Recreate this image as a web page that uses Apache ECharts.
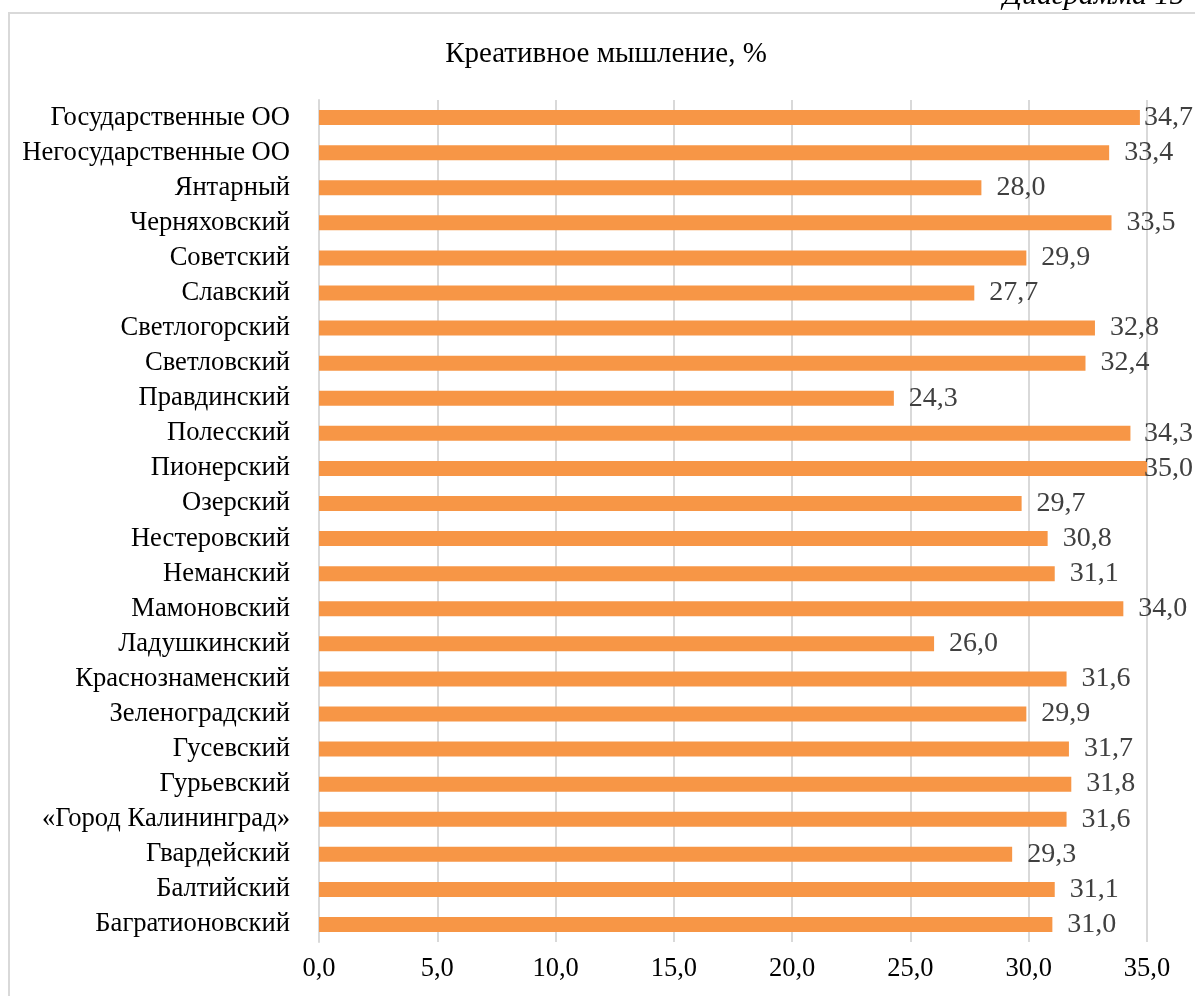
<!DOCTYPE html>
<html>
<head>
<meta charset="utf-8">
<script src="https://cdn.jsdelivr.net/npm/echarts@6/dist/echarts.min.js"></script>
<style>
  html, body { margin: 0; padding: 0; background: #fff; overflow: hidden; }
  #frame { position: absolute; left: 8px; top: 12px; width: 1300px; height: 1100px;
           border: 2px solid #d9d9d9; box-sizing: border-box; }
  #chart { position: absolute; left: 0; top: 0; width: 1195px; height: 996px; }
</style>
</head>
<body>
<div id="frame"></div>
<div id="chart"></div>
<script>
// районы сверху вниз
var categories = [
  'Государственные ОО', 'Негосударственные ОО', 'Янтарный', 'Черняховский',
  'Советский', 'Славский', 'Светлогорский', 'Светловский', 'Правдинский',
  'Полесский', 'Пионерский', 'Озерский', 'Нестеровский', 'Неманский',
  'Мамоновский', 'Ладушкинский', 'Краснознаменский', 'Зеленоградский',
  'Гусевский', 'Гурьевский', '«Город Калининград»', 'Гвардейский',
  'Балтийский', 'Багратионовский'
];
var values = [
  34.7, 33.4, 28.0, 33.5,
  29.9, 27.7, 32.8, 32.4, 24.3,
  34.3, 35.0, 29.7, 30.8, 31.1,
  34.0, 26.0, 31.6, 29.9,
  31.7, 31.8, 31.6, 29.3,
  31.1, 31.0
];

var fmt = function (v) { return Number(v).toFixed(1).replace('.', ','); };
var font = '"Liberation Serif", "Times New Roman", serif';

var myChart = echarts.init(document.getElementById('chart'));
var option = {
  animation: false,
  title: {
    text: 'Креативное мышление, %',
    left: 601,
    top: 35,
    textAlign: 'center',
    textStyle: { fontFamily: font, fontSize: 29, fontWeight: 'normal', color: '#000' }
  },
  graphic: [{
    type: 'text',
    left: 1003,
    top: -19,
    style: { text: 'Диаграмма 15', font: 'italic 30px ' + font, fill: '#000' }
  }],
  grid: { left: 319, right: 48, top: 100, bottom: 54, containLabel: false },
  xAxis: {
    type: 'value',
    min: 0,
    max: 35,
    interval: 5,
    axisLine: { show: false },
    axisTick: { show: false },
    splitLine: { show: true, lineStyle: { color: '#d9d9d9', width: 2 } },
    axisLabel: {
      margin: 14,
      fontFamily: font,
      fontSize: 26.5,
      color: '#000',
      formatter: fmt
    }
  },
  yAxis: {
    type: 'category',
    inverse: true,
    data: categories,
    axisLine: { show: true, lineStyle: { color: '#d9d9d9', width: 2 } },
    axisTick: { show: false },
    axisLabel: { interval: 0, margin: 29, fontFamily: font, fontSize: 26.6, color: '#000' }
  },
  series: [{
    type: 'bar',
    data: values,
    barWidth: 15,
    itemStyle: { color: '#f79646' },
    label: {
      show: true,
      position: 'right',
      distance: 15,
      fontFamily: font,
      fontSize: 28,
      color: '#404040',
      formatter: function (p) { return fmt(p.value); }
    },
    // как в Excel: подпись не выходит за правый край области диаграммы
    labelLayout: function (params) {
      var r = params.labelRect;
      var over = r.x + r.width - 1193;
      if (over > 0) {
        return { dx: -over };
      }
    }
  }]
};
myChart.setOption(option);
</script>
</body>
</html>
